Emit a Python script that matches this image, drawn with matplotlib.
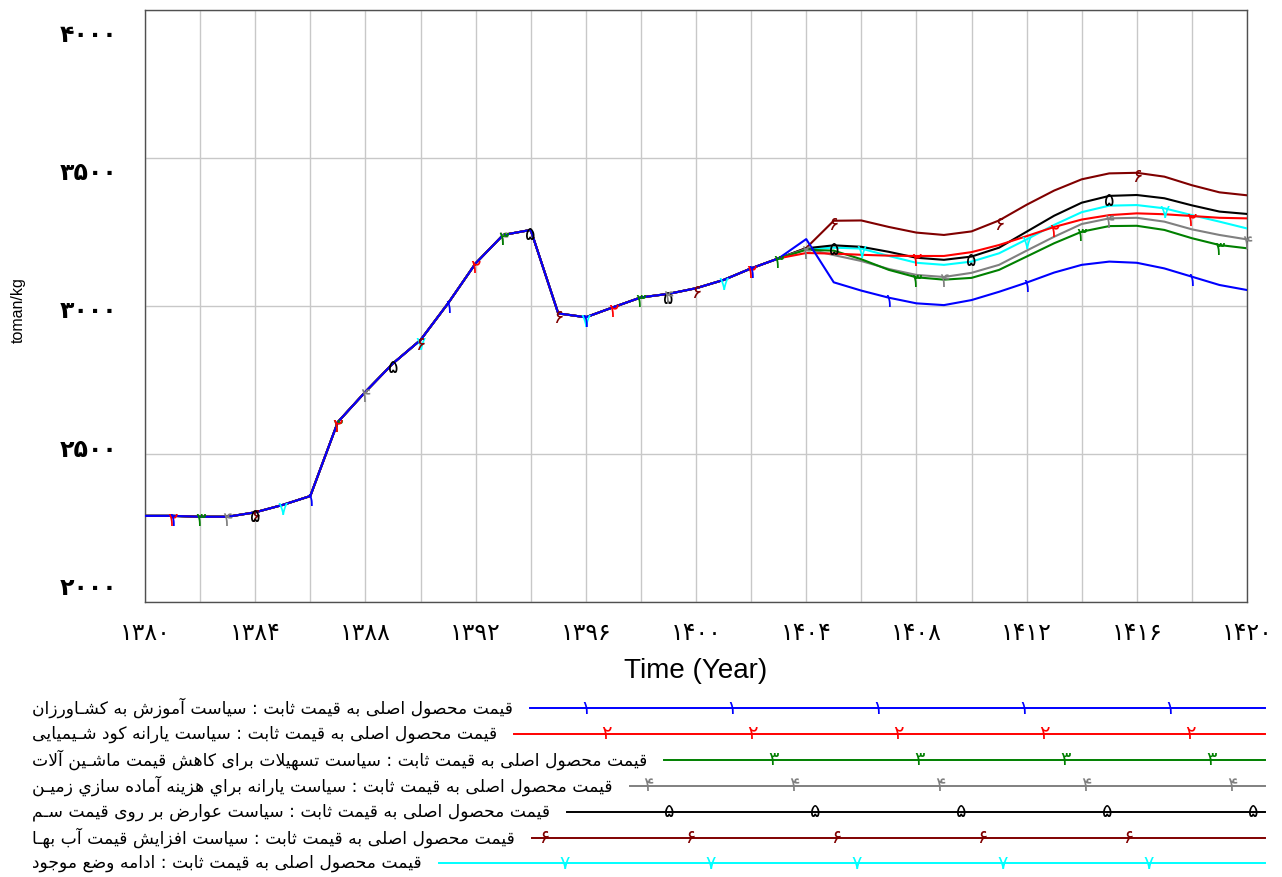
import numpy as np
import matplotlib
matplotlib.use('Agg')
import matplotlib.pyplot as plt
from matplotlib.lines import Line2D
from matplotlib.transforms import offset_copy

# ---- data ----
years = list(range(1380, 1421))

# common history 1380..1403
history = [2291, 2291, 2288, 2288, 2303, 2328, 2358, 2608, 2710, 2806, 2885, 3009,
           3144, 3240, 3257, 2975, 2962, 2996, 3029, 3041, 3060, 3088, 3127, 3161]

# scenarios 1404..1420
blue_f = [3226, 3080, 3052, 3028, 3009, 3003, 3020, 3048, 3079, 3113, 3139, 3150, 3146, 3127, 3099, 3071, 3054]
red_f = [3179, 3177, 3173, 3170, 3169, 3169, 3182, 3206, 3236, 3267, 3292, 3307, 3313, 3310, 3304, 3298, 3296]
green_f = [3190, 3187, 3158, 3122, 3097, 3089, 3095, 3122, 3167, 3212, 3251, 3270, 3271, 3257, 3229, 3206, 3195]
gray_f = [3193, 3172, 3152, 3125, 3105, 3098, 3112, 3139, 3187, 3234, 3277, 3296, 3298, 3285, 3259, 3240, 3225]
black_f = [3195, 3205, 3200, 3183, 3163, 3156, 3167, 3197, 3251, 3305, 3349, 3372, 3375, 3364, 3340, 3319, 3311]
darkred_f = [3196, 3288, 3289, 3267, 3248, 3240, 3252, 3289, 3342, 3390, 3428, 3448, 3450, 3437, 3408, 3384, 3374]
cyan_f = [3192, 3197, 3194, 3169, 3146, 3139, 3150, 3178, 3225, 3274, 3317, 3339, 3341, 3330, 3307, 3285, 3262]

labels = [
    'قیمت محصول اصلی به قیمت ثابت : سیاست آموزش به کشـاورزان',
    'قیمت محصول اصلی به قیمت ثابت : سیاست یارانه کود شـیمیایی',
    'قیمت محصول اصلی به قیمت ثابت : سیاست تسهیلات برای کاهش قیمت ماشـین آلات',
    'قیمت محصول اصلی به قیمت ثابت : سیاست يارانه براي هزينه آماده سازي زميـن',
    'قیمت محصول اصلی به قیمت ثابت : سیاست عوارض بر روی قیمت سـم',
    'قیمت محصول اصلی به قیمت ثابت : سیاست افزایش قیمت آب بهـا',
    'قیمت محصول اصلی به قیمت ثابت : ادامه وضع موجود',
]
colors = ['#0000ff', '#ff0000', '#008000', '#808080', '#000000', '#800000', '#00ffff']

# years where each run carries its number on the curve
marker_years = [
    [1381, 1386, 1391, 1396, 1402, 1407, 1412, 1418],
    [1381, 1387, 1392, 1397, 1402, 1408, 1413, 1418],
    [1382, 1387, 1393, 1398, 1403, 1408, 1414, 1419],
    [1383, 1388, 1393, 1399, 1404, 1409, 1415, 1420],
    [1384, 1389, 1394, 1399, 1405, 1410, 1415],
    [1384, 1390, 1395, 1400, 1405, 1411, 1416],
    [1385, 1390, 1396, 1401, 1406, 1412, 1417],
]

x_ticks = list(range(1380, 1421, 4))
y_ticks = [2000, 2500, 3000, 3500, 4000]

# ---- persian text helpers (matplotlib does not shape arabic script) ----
FA_DIGITS = str.maketrans('0123456789', '۰۱۲۳۴۵۶۷۸۹')

FORMS = {
    'ا': ('\uFE8D', '\uFE8E', None, None),
    'آ': ('\uFE81', '\uFE82', None, None),
    'ب': ('\uFE8F', '\uFE90', '\uFE91', '\uFE92'),
    'ت': ('\uFE95', '\uFE96', '\uFE97', '\uFE98'),
    'ث': ('\uFE99', '\uFE9A', '\uFE9B', '\uFE9C'),
    'ج': ('\uFE9D', '\uFE9E', '\uFE9F', '\uFEA0'),
    'ح': ('\uFEA1', '\uFEA2', '\uFEA3', '\uFEA4'),
    'د': ('\uFEA9', '\uFEAA', None, None),
    'ر': ('\uFEAD', '\uFEAE', None, None),
    'ز': ('\uFEAF', '\uFEB0', None, None),
    'س': ('\uFEB1', '\uFEB2', '\uFEB3', '\uFEB4'),
    'ش': ('\uFEB5', '\uFEB6', '\uFEB7', '\uFEB8'),
    'ص': ('\uFEB9', '\uFEBA', '\uFEBB', '\uFEBC'),
    'ض': ('\uFEBD', '\uFEBE', '\uFEBF', '\uFEC0'),
    'ع': ('\uFEC9', '\uFECA', '\uFECB', '\uFECC'),
    'ف': ('\uFED1', '\uFED2', '\uFED3', '\uFED4'),
    'ق': ('\uFED5', '\uFED6', '\uFED7', '\uFED8'),
    'ک': ('\uFB8E', '\uFB8F', '\uFB90', '\uFB91'),
    'ل': ('\uFEDD', '\uFEDE', '\uFEDF', '\uFEE0'),
    'م': ('\uFEE1', '\uFEE2', '\uFEE3', '\uFEE4'),
    'ن': ('\uFEE5', '\uFEE6', '\uFEE7', '\uFEE8'),
    'ه': ('\uFEE9', '\uFEEA', '\uFEEB', '\uFEEC'),
    'و': ('\uFEED', '\uFEEE', None, None),
    'ي': ('\uFEF1', '\uFEF2', '\uFEF3', '\uFEF4'),
    'ی': ('\uFBFC', '\uFBFD', '\uFBFE', '\uFBFF'),
    'ـ': ('ـ', 'ـ', 'ـ', 'ـ'),
}


def shape(text):
    chars = list(text)
    out = []
    i = 0
    while i < len(chars):
        c = chars[i]
        if c not in FORMS:
            out.append(c)
            i += 1
            continue
        prev = chars[i - 1] if i > 0 else None
        joins_prev = prev in FORMS and FORMS[prev][2] is not None
        if c == 'ل' and i + 1 < len(chars) and chars[i + 1] in 'اآ':
            lig = ('\uFEFB', '\uFEFC') if chars[i + 1] == 'ا' else ('\uFEF5', '\uFEF6')
            out.append(lig[1] if joins_prev else lig[0])
            i += 2
            continue
        nxt = chars[i + 1] if i + 1 < len(chars) else None
        joins_next = FORMS[c][2] is not None and nxt in FORMS
        iso, fin, ini, med = FORMS[c]
        if joins_prev and joins_next:
            out.append(med)
        elif joins_prev:
            out.append(fin)
        elif joins_next:
            out.append(ini)
        else:
            out.append(iso)
        i += 1
    return ''.join(reversed(out))


def fa_num(n):
    return str(n).translate(FA_DIGITS)


# ---- figure ----
W, H = 1282, 877
fig = plt.figure(figsize=(W / 100, H / 100), dpi=100)
ax = fig.add_axes([145 / W, 1 - 602 / H, 1102 / W, 592 / H])

series = [history + f for f in (blue_f, red_f, green_f, gray_f, black_f, darkred_f, cyan_f)]
# run numbers hang a little below the curve, as in the vensim output
num_trans = offset_copy(ax.transData, fig=fig, y=-3, units='points')

for k in reversed(range(7)):
    ax.plot(years, series[k], color=colors[k], lw=1.5, zorder=3 + (6 - k) * 0.1)
    for yr in marker_years[k]:
        ax.text(yr, np.interp(yr, years, series[k]), fa_num(k + 1), color=colors[k],
                fontsize=14, ha='center', va='center', family='DejaVu Sans', zorder=5,
                transform=num_trans)

ax.set_xlim(1380, 1420)
ax.set_ylim(2000, 4000)
ax.set_xticks(x_ticks)
ax.set_xticks(range(1380, 1421, 2), minor=True)
ax.set_xticklabels([fa_num(t) for t in x_ticks], fontsize=17, family='DejaVu Sans')
ax.set_yticks(y_ticks)
ax.set_yticklabels([])
ax.tick_params(which='both', length=0)
ax.tick_params(axis='x', pad=14)
ax.grid(True, which='both', color='#c8c8c8', lw=1)
ax.set_axisbelow(True)
for sp in ax.spines.values():
    sp.set_color('#505050')
    sp.set_linewidth(1)

# vensim style: value labels spread evenly inside the axis height
for v, yy in zip(reversed(y_ticks), np.linspace(0.958, 0.024, 5)):
    ax.text(-0.025, yy, fa_num(v), transform=ax.transAxes, ha='right', va='center',
            fontsize=17, fontweight='bold', family='DejaVu Sans')

ax.set_xlabel('Time (Year)', fontsize=20, family='Liberation Sans')
ax.xaxis.set_label_coords(0.5, -(671 - 602) / 592)
ax.xaxis.label.set_va('center')
ax.set_ylabel('toman/kg', fontsize=11.5, family='Liberation Sans')
ax.yaxis.set_label_coords((18 - 145) / 1102, 0.493)
ax.yaxis.label.set_va('center')

# ---- legend below the plot ----
fig.canvas.draw()
renderer = fig.canvas.get_renderer()
line_end = 1265
for k in range(7):
    yc = 708 + 25.9 * k
    t = fig.text(32 / W, 1 - yc / H, shape(labels[k]), fontsize=12.3, family='DejaVu Sans',
                 ha='left', va='center')
    x_start = t.get_window_extent(renderer).x1 + 17
    fig.add_artist(Line2D([x_start / W, line_end / W], [1 - yc / H, 1 - yc / H],
                          color=colors[k], lw=1.4))
    # run numbers sit on a common grid, cycling through the runs
    for j in range(40):
        xm = 544 + j * 20.86
        if (j + 5) % 7 != k or xm < x_start or xm > line_end:
            continue
        fig.text(xm / W, 1 - yc / H, fa_num(k + 1), color=colors[k], fontsize=14,
                 ha='center', va='center', family='DejaVu Sans')

fig.savefig('out.png', dpi=100)
